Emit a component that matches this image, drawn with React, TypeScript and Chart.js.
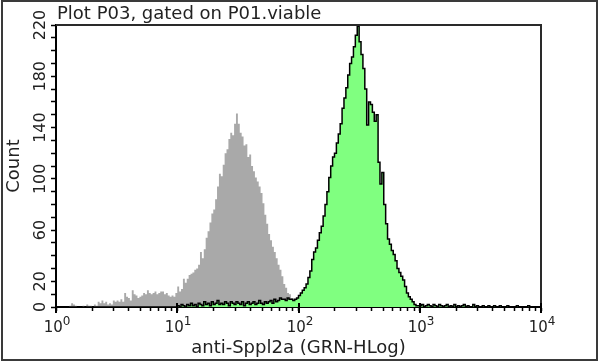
import React, { useEffect, useRef } from 'react';
import { Chart, registerables } from 'chart.js';

Chart.register(...registerables);

// ---- texts ----
const TITLE = 'Plot P03, gated on P01.viable';
const X_TITLE = 'anti-Sppl2a (GRN-HLog)';
const Y_TITLE = 'Count';

// ---- axes ----
const X_MAJOR = [1, 10, 100, 1000, 10000];
const X_LABEL_BASE = '10';
const X_LABEL_EXP = ['0', '1', '2', '3', '4'];
const Y_MIN = 0;
const Y_MAX = 220;
const Y_STEP = 10;
const Y_LABELS = [0, 20, 60, 100, 140, 180, 220];
const BINS_PER_DECADE = 64;

// ---- histogram counts (256 log bins, 10^0 .. 10^4) ----
const controlCounts = [
  0, 0, 0, 0, 0, 0, 0, 1, 3, 2, 1, 0, 0, 0, 1, 0,
  2, 1, 1, 0, 2, 1, 4, 3, 5, 3, 4, 2, 3, 2, 5, 4,
  5, 4, 6, 4, 11, 8, 7, 5, 13, 10, 9, 7, 8, 9, 11, 10,
  13, 11, 10, 11, 12, 10, 11, 12, 12, 10, 11, 9, 8, 9, 8, 11,
  16, 12, 14, 22, 19, 22, 25, 26, 27, 29, 30, 33, 43, 38, 45, 54,
  59, 66, 73, 76, 84, 94, 104, 102, 111, 120, 123, 131, 136, 134, 143, 151,
  143, 136, 133, 126, 127, 117, 119, 110, 106, 101, 98, 94, 89, 81, 72, 65,
  57, 52, 47, 43, 38, 33, 29, 24, 18, 15, 11, 10, 7, 4, 2, 1,
  1, 0, 0, 0, 0, 0, 0, 0, 0, 0, 0, 0, 0, 0, 0, 0,
  0, 0, 0, 0, 0, 0, 0, 0, 0, 0, 0, 0, 0, 0, 0, 0,
  0, 0, 0, 0, 0, 0, 0, 0, 0, 0, 0, 0, 0, 0, 0, 0,
  0, 0, 0, 0, 0, 0, 0, 0, 0, 0, 0, 0, 0, 0, 0, 0,
  0, 0, 0, 0, 0, 0, 0, 0, 0, 0, 0, 0, 0, 0, 0, 0,
  0, 0, 0, 0, 0, 0, 0, 0, 0, 0, 0, 0, 0, 0, 0, 0,
  0, 0, 0, 0, 0, 0, 0, 0, 0, 0, 0, 0, 0, 0, 0, 0,
  0, 0, 0, 0, 0, 0, 0, 0, 0, 0, 0, 0, 0, 0, 0, 0,
];

const sampleCounts = [
  0, 0, 0, 0, 0, 0, 0, 0, 0, 0, 0, 0, 0, 0, 0, 0,
  0, 0, 0, 0, 0, 0, 0, 0, 0, 0, 0, 0, 0, 0, 0, 0,
  0, 0, 0, 0, 0, 0, 0, 0, 0, 0, 0, 0, 0, 0, 0, 0,
  0, 0, 0, 0, 0, 0, 0, 0, 0, 0, 0, 0, 0, 0, 0, 0,
  1, 0, 2, 1, 0, 2, 1, 3, 1, 2, 0, 3, 2, 1, 4, 2,
  3, 1, 4, 2, 3, 5, 2, 3, 2, 4, 3, 1, 4, 3, 2, 4,
  3, 2, 4, 1, 3, 4, 2, 3, 4, 2, 3, 5, 3, 2, 4, 3,
  4, 5, 3, 6, 4, 5, 7, 6, 6, 5, 7, 6, 6, 5, 6, 7,
  9, 11, 13, 15, 18, 23, 28, 37, 43, 46, 52, 58, 63, 71, 80, 90,
  101, 110, 117, 120, 128, 135, 143, 155, 163, 171, 181, 190, 195, 203, 212, 219,
  207, 197, 186, 170, 142, 160, 158, 152, 145, 150, 113, 96, 105, 80, 65, 53,
  49, 44, 41, 36, 30, 27, 24, 21, 16, 11, 8, 6, 4, 2, 1, 1,
  1, 2, 0, 1, 2, 1, 0, 2, 1, 0, 2, 1, 0, 1, 2, 0,
  1, 0, 2, 0, 1, 0, 1, 2, 0, 1, 0, 0, 2, 0, 1, 0,
  0, 1, 0, 0, 1, 0, 0, 1, 0, 0, 1, 0, 0, 0, 1, 0,
  0, 0, 0, 1, 0, 0, 0, 0, 0, 1, 0, 0, 0, 0, 0, 0,
];

const binCenter = (i: number) => Math.pow(10, (i + 0.5) / BINS_PER_DECADE);
const toPoints = (arr: number[]) => arr.map((y, i) => ({ x: binCenter(i), y }));

const xTickValues: number[] = [];
for (let d = 0; d < X_MAJOR.length - 1; d++) {
  for (let m = 1; m <= 9; m++) xTickValues.push(m * X_MAJOR[d]);
}
xTickValues.push(X_MAJOR[X_MAJOR.length - 1]);

const FONT = '"DejaVu Sans", Verdana, sans-serif';

const framePlugin = {
  id: 'frame',
  afterDraw(chart: any) {
    const { ctx, chartArea: a, scales } = chart;
    ctx.save();
    // top & right plot border
    ctx.strokeStyle = '#2a2a2a';
    ctx.lineWidth = 2;
    ctx.beginPath();
    ctx.moveTo(a.left, a.top);
    ctx.lineTo(a.right, a.top);
    ctx.lineTo(a.right, a.bottom);
    ctx.stroke();
    // longer decade ticks + "10^n" labels
    const xs = scales.x;
    ctx.strokeStyle = '#000';
    ctx.lineWidth = 2;
    ctx.fillStyle = '#222';
    ctx.textBaseline = 'alphabetic';
    ctx.textAlign = 'left';
    X_MAJOR.forEach((v, i) => {
      const px = Math.round(xs.getPixelForValue(v));
      ctx.beginPath();
      ctx.moveTo(px, a.bottom - 4);
      ctx.lineTo(px, a.bottom + 6);
      ctx.stroke();
      ctx.font = '15px ' + FONT;
      const wb = ctx.measureText(X_LABEL_BASE).width;
      ctx.font = '12px ' + FONT;
      const we = ctx.measureText(X_LABEL_EXP[i]).width;
      const start = px - (wb + we) / 2 + 1;
      ctx.font = '15px ' + FONT;
      ctx.fillText(X_LABEL_BASE, start, a.bottom + 25);
      ctx.font = '12px ' + FONT;
      ctx.fillText(X_LABEL_EXP[i], start + wb, a.bottom + 18);
    });
    // outer frame
    ctx.strokeStyle = '#3a3a3a';
    ctx.lineWidth = 2;
    ctx.strokeRect(2, 1, chart.width - 5, chart.height - 4);
    // title
    ctx.fillStyle = '#222';
    ctx.font = '18px ' + FONT;
    ctx.textAlign = 'left';
    ctx.textBaseline = 'alphabetic';
    ctx.fillText(TITLE, a.left + 1, 19);
    ctx.restore();
  },
};

export default function App() {
  const ref = useRef<HTMLCanvasElement | null>(null);

  useEffect(() => {
    if (!ref.current) return;
    const chart = new Chart(ref.current, {
      type: 'line',
      data: {
        datasets: [
          {
            label: 'sample',
            data: toPoints(sampleCounts),
            stepped: 'middle',
            borderColor: '#000',
            borderWidth: 1.5,
            backgroundColor: '#80ff80',
            fill: 'origin',
            pointRadius: 0,
          },
          {
            label: 'control',
            data: toPoints(controlCounts),
            stepped: 'middle',
            borderColor: 'rgba(0,0,0,0)',
            borderWidth: 0,
            backgroundColor: '#a9a9a9',
            fill: 'origin',
            pointRadius: 0,
          },
        ],
      },
      options: {
        animation: false,
        responsive: false,
        maintainAspectRatio: false,
        layout: { padding: { left: 0, top: 25, right: 59, bottom: 0 } },
        plugins: {
          legend: { display: false },
          tooltip: { enabled: false },
          title: { display: false },
        },
        scales: {
          x: {
            type: 'logarithmic',
            min: X_MAJOR[0],
            max: X_MAJOR[X_MAJOR.length - 1],
            afterBuildTicks: (s: any) => {
              s.ticks = xTickValues.map((v) => ({ value: v }));
            },
            afterFit: (s: any) => {
              s.height = 56;
            },
            border: { display: true, color: '#000', width: 2 },
            grid: {
              drawOnChartArea: false,
              drawTicks: true,
              tickLength: 4,
              tickColor: '#000',
              tickWidth: 1.5,
            },
            ticks: {
              autoSkip: false,
              minRotation: 0,
              maxRotation: 0,
              padding: 4,
              color: '#222',
              font: { family: FONT, size: 14 },
              callback: () => '',
            },
            title: {
              display: true,
              text: X_TITLE,
              color: '#222',
              font: { family: FONT, size: 18 },
              padding: { top: 0, bottom: 4 },
            },
          },
          y: {
            type: 'linear',
            min: Y_MIN,
            max: Y_MAX,
            afterFit: (s: any) => {
              s.width = 56;
            },
            border: { display: true, color: '#000', width: 2 },
            grid: {
              drawOnChartArea: false,
              drawTicks: true,
              tickLength: 5,
              tickColor: '#000',
              tickWidth: 1.5,
            },
            ticks: {
              stepSize: Y_STEP,
              autoSkip: false,
              minRotation: 90,
              maxRotation: 90,
              crossAlign: 'center',
              padding: -5,
              color: '#222',
              font: { family: FONT, size: 16 },
              callback: (v: any) => (Y_LABELS.includes(Number(v)) ? String(v) : ''),
            },
            title: {
              display: true,
              text: Y_TITLE,
              color: '#222',
              font: { family: FONT, size: 18 },
              padding: { top: 4, bottom: 0 },
            },
          },
        },
      },
      plugins: [framePlugin],
    } as any);
    return () => chart.destroy();
  }, []);

  return (
    <div style={{ position: 'absolute', left: 0, top: 0, width: 600, height: 363, background: '#fff' }}>
      <canvas ref={ref} width={600} height={363} />
    </div>
  );
}
